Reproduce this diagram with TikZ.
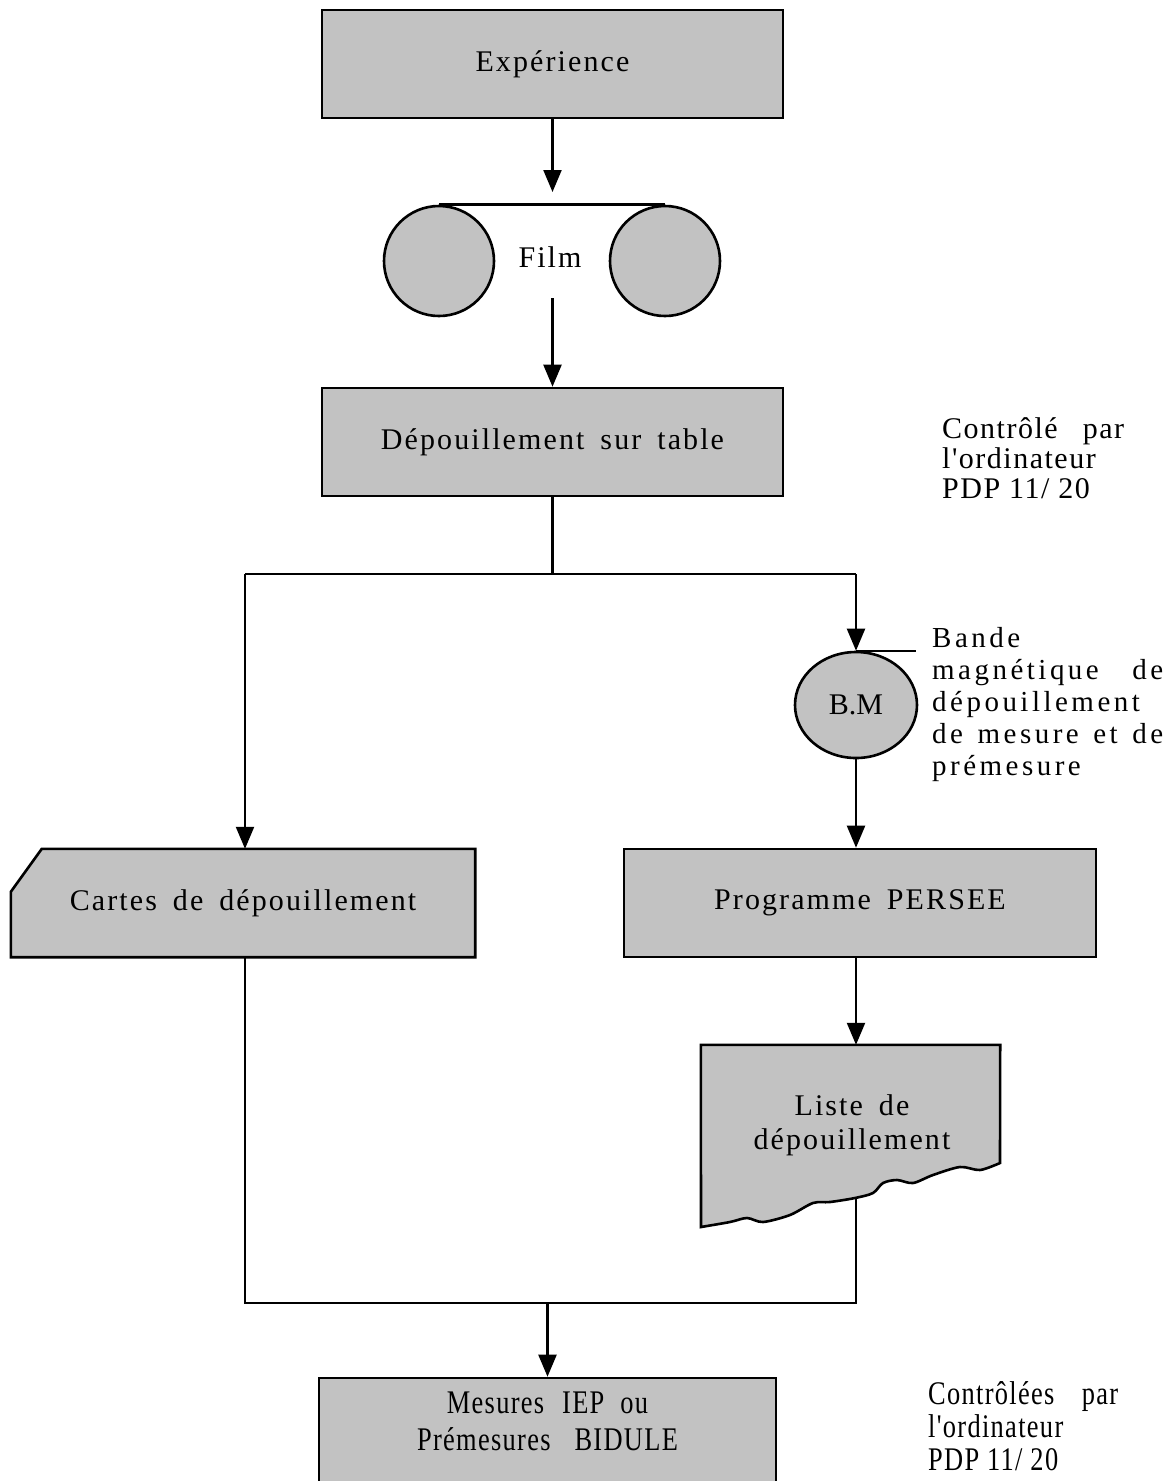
\documentclass[tikz,border=0pt]{standalone}
\usepackage{fontspec}
\setmainfont{Liberation Serif}
\newfontfamily\boxfont[LetterSpace=7]{Liberation Serif}
\newfontfamily\sidefont[LetterSpace=12]{Liberation Serif}
\newfontfamily\ctlfont[LetterSpace=5]{Liberation Serif}
\newfontfamily\condfont[FakeStretch=0.8,LetterSpace=4]{Liberation Serif}
\newcommand\wsp{\hspace{16pt}}
\usetikzlibrary{arrows.meta,shapes.geometric,backgrounds}
\begin{document}
\begin{tikzpicture}[x=1pt,y=-1pt,
  greyfill/.style={fill=black!24},
  boxed/.style={draw,line width=2.6pt,greyfill,minimum width=#1,minimum height=108pt,inner sep=0pt,
     font=\boxfont\fontsize{30}{34}\selectfont},
  reel/.style={circle,draw,line width=2.6pt,greyfill,minimum size=110pt,inner sep=0pt},
  conn/.style={line width=2.2pt},
  arr/.style={line width=2.2pt,-{Triangle[length=22pt,width=18pt]}},
  txt/.style={inner sep=0pt,font=\boxfont\fontsize{30}{34}\selectfont,align=center}]
\useasboundingbox (0,0) rectangle (1168,1481);
\clip (0,0) rectangle (1168,1481);

% nodes
\node[boxed=461pt] (exp) at (552.5,64) {Expérience};
\node[reel] (reelL) at (439,261) {};
\node[reel] (reelR) at (665,261) {};
\node[txt] (film) at (550,257) {Film};
\node[boxed=461pt] (dep) at (552.5,442) {Dépouillement\wsp sur\wsp table};
\node[ellipse,draw,line width=2.6pt,greyfill,minimum width=122pt,minimum height=106pt,inner sep=0pt,
      font=\fontsize{30}{34}\selectfont] (bm) at (856,705) {B.M};
\node[inner sep=0pt,minimum width=464pt,minimum height=108pt,
      font=\boxfont\fontsize{30}{34}\selectfont] (cartes) at (243,903) {Cartes\wsp de\wsp dépouillement};
\node[boxed=472pt] (persee) at (860,903) {Programme\wsp PERSEE};
\node[inner sep=0pt,minimum width=299pt,minimum height=182pt] (liste) at (850.5,1136) {};
\node[txt] (listetxt) at (852,1125) {Liste\wsp de\\dépouillement};
\node[draw,line width=2.6pt,greyfill,minimum width=457pt,minimum height=120pt,inner sep=0pt] (mes) at (547.5,1438) {};
\node[inner sep=0pt,align=center,font=\condfont\fontsize{33}{37}\selectfont] (mestxt) at (547.5,1421)
   {Mesures\hspace{10pt} IEP\hspace{8pt} ou\\Prémesures\hspace{16pt} BIDULE};

% annotations
\node[anchor=west,inner sep=0pt,align=left,font=\ctlfont\fontsize{30}{30}\selectfont] (ctl1) at (942,458)
   {\makebox[182pt][s]{Contrôlé par}\\l'ordinateur\\PDP 11/ 20};
\node[anchor=west,inner sep=0pt,align=left,font=\sidefont\fontsize{29}{32}\selectfont] (bmtxt) at (932,705)
   {Bande\\\makebox[231pt][s]{magnétique de}\\dépouillement\\\makebox[231pt][s]{de mesure et de}\\prémesure};
\node[anchor=west,inner sep=0pt,align=left,font=\condfont\fontsize{33}{33}\selectfont] (ctl2) at (928,1426)
   {\makebox[190pt][s]{Contrôlées par}\\l'ordinateur\\PDP 11/ 20};

% special shapes behind text
\begin{scope}[on background layer]
  \draw[line width=2.6pt,greyfill] ([xshift=31pt]cartes.north west) -- (cartes.north east) -- (cartes.south east)
     -- (cartes.south west) -- ([yshift=-43pt]cartes.north west) -- cycle;
  \draw[line width=2.6pt,greyfill] (liste.north west) -- (liste.north east) -- (1000,1163)
     -- plot[smooth] coordinates {(1000,1163) (980,1170) (960,1167) (933,1175) (913,1183) (897,1180)
        (883,1183) (873,1193) (855,1198) (830,1202) (813,1203) (790,1215) (763,1222) (747,1218)
        (730,1222) (701,1227)} -- cycle;
\end{scope}

% coordinates
\coordinate (filmin) at (552.5,192);
\coordinate (filmout) at (552.5,298);
\coordinate (split) at (552.5,574);
\coordinate (splitL) at (245,574);
\coordinate (splitR) at (856,574);
\coordinate (listeout) at (856,1198);
\coordinate (joinR) at (856,1303);
\coordinate (joinL) at (245,1303);
\coordinate (joinM) at (547.5,1303);

% connectors
\draw[arr] (exp.south) -- (filmin);
\draw[line width=2.6pt] (reelL.north) -- (reelR.north);
\draw[arr] (filmout) -- (dep.north);
\draw[conn] (dep.south) -- (split);
\draw[conn] (splitL) -- (splitR);
\draw[arr] (splitL) -- (splitL |- cartes.north);
\draw[arr] (splitR) -- (bm.north);
\draw[line width=1.8pt] (bm.north) -- ++(60,0);
\draw[arr] (bm.south) -- (bm.south |- persee.north);
\draw[arr] (bm.south |- persee.south) -- (bm.south |- liste.north);
\draw[conn] (listeout) -- (joinR) -- (joinL) -- (joinL |- cartes.south);
\draw[arr] (joinM) -- (mes.north);
\end{tikzpicture}
\end{document}
